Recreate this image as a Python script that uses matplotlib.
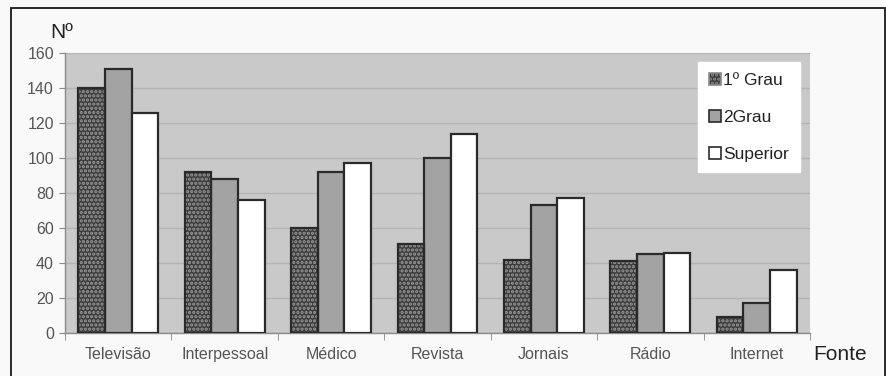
import matplotlib
matplotlib.use("Agg")
import matplotlib.pyplot as plt
from matplotlib.patches import Patch, Rectangle
import numpy as np

plt.rcParams['font.family'] = ['Liberation Sans', 'DejaVu Sans']

categories = ["Televisão", "Interpessoal", "Médico", "Revista", "Jornais", "Rádio", "Internet"]
series_names = ["1º Grau", "2Grau", "Superior"]
grau1 = [140, 92, 60, 51, 42, 41, 9]
grau2 = [151, 88, 92, 100, 73, 45, 17]
superior = [126, 76, 97, 114, 77, 46, 36]
yticks = [0, 20, 40, 60, 80, 100, 120, 140, 160]

fig = plt.figure(figsize=(8.87, 3.76), dpi=100)
fig.patch.set_facecolor('#f9f9f9')
ax = fig.add_axes([65/887, 43/376, (810-65)/887, (333-53)/376])
ax.set_facecolor('#c9c9c9')

x = np.arange(len(categories))
w = 0.25
edge = '#2a2a2a'
plt.rcParams['hatch.linewidth'] = 1.6

# dotted dark bars: hatch layer then outline
ax.bar(x - w, grau1, w, color='#3c3c3c', edgecolor='#9a9a9a', hatch='....', linewidth=0, zorder=3)
ax.bar(x - w, grau1, w, fill=False, edgecolor=edge, linewidth=1.6, zorder=4)
ax.bar(x, grau2, w, color='#a3a3a3', edgecolor=edge, linewidth=1.6, zorder=3)
ax.bar(x + w, superior, w, color='#ffffff', edgecolor=edge, linewidth=1.6, zorder=3)

ax.set_xlim(-0.5, len(categories) - 0.5)
ax.set_ylim(0, 160)
ax.set_yticks(yticks)
ax.yaxis.grid(True, color='#b4b4b4', linewidth=1.0, zorder=0)
ax.set_axisbelow(True)

ax.set_xticks(x)
ax.set_xticklabels(categories)
ax.set_xticks(np.arange(len(categories) + 1) - 0.5, minor=True)
ax.tick_params(axis='x', which='major', length=0, pad=10, labelsize=11.5, labelcolor='#555555')
ax.tick_params(axis='x', which='minor', length=5, color='#888888', direction='out')
ax.tick_params(axis='y', length=4, color='#888888', labelsize=11.5, labelcolor='#555555', pad=4)

for s in ['top', 'right']:
    ax.spines[s].set_visible(False)
for s in ['left', 'bottom']:
    ax.spines[s].set_color('#8a8a8a')
    ax.spines[s].set_linewidth(1.0)

h1 = Patch(facecolor='#3c3c3c', edgecolor='#8a8a8a', hatch='....', linewidth=1.2)
h2 = Patch(facecolor='#a3a3a3', edgecolor=edge, linewidth=1.2)
h3 = Patch(facecolor='#ffffff', edgecolor=edge, linewidth=1.2)
leg = ax.legend([h1, h2, h3], series_names, loc='upper right', bbox_to_anchor=(0.993, 0.985),
                frameon=True, fancybox=False, framealpha=1, edgecolor='#ffffff',
                facecolor='#ffffff', fontsize=12.5, handlelength=0.7, handleheight=0.7,
                handletextpad=0.15, labelspacing=1.25, borderpad=0.6, borderaxespad=0.3,
                labelcolor='#222222')

fig.text(50/887, 1 - 32/376, "Nº", fontsize=15, color='#222222', va='center', ha='left')
fig.text(813/887, 1 - 354/376, "Fonte", fontsize=15, color='#222222', va='center', ha='left')

fig.patches.append(Rectangle((11/887, -0.02), (885-11)/887, 1.02 - 8/376,
                             transform=fig.transFigure, fill=False,
                             edgecolor='#1a1a1a', linewidth=1.3))

fig.savefig("out.png", dpi=100, facecolor=fig.get_facecolor())
